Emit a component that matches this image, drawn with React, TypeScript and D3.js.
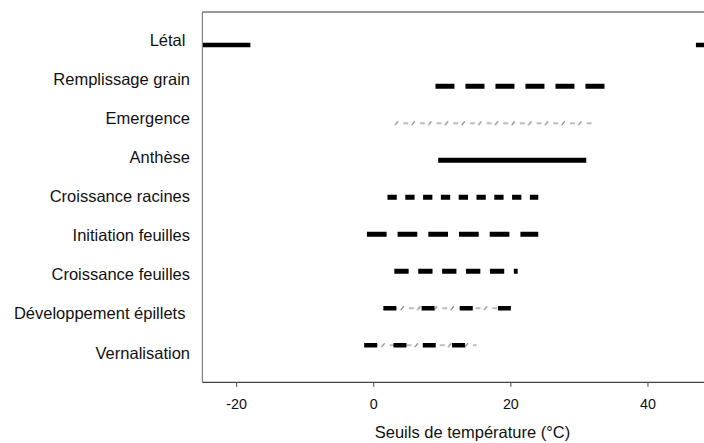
import React from "react";
import * as d3 from "d3";

// ---- data ----
const categories = [
  "Létal",
  "Remplissage grain",
  "Emergence",
  "Anthèse",
  "Croissance racines",
  "Initiation feuilles",
  "Croissance feuilles",
  "Développement épillets",
  "Vernalisation",
];
const labelTexts = [
  "Létal ",
  "Remplissage grain",
  "Emergence",
  "Anthèse",
  "Croissance racines",
  "Initiation feuilles",
  "Croissance feuilles",
  "Développement épillets ",
  "Vernalisation",
];
// y position of each category's line (row units)
const rowPosition = [9.12, 8, 7, 6, 5, 4, 3, 2, 1];
// threshold ranges (°C)
const segCategory = [
  "Létal",
  "Létal",
  "Remplissage grain",
  "Emergence",
  "Anthèse",
  "Croissance racines",
  "Initiation feuilles",
  "Croissance feuilles",
  "Développement épillets",
  "Vernalisation",
];
const segMin = [-30, 47, 9, 3, 9.4, 2, -1, 3, 1.4, -1.4];
const segMax = [-18, 55, 34, 32, 31, 24, 24, 21, 20, 15];
const xTicks = [-20, 0, 20, 40];
const xDomain = [-25, 50];
const xTitle = "Seuils de température (°C)";

// ---- styles (by category) ----
type LS = { hatch?: boolean; thick?: boolean; width?: number; dash?: string };
const styleOf: Record<string, LS> = {
  "Létal": { thick: true, width: 4.5 },
  "Remplissage grain": { thick: true, width: 5, dash: "19 11" },
  "Emergence": { hatch: true },
  "Anthèse": { thick: true, width: 5 },
  "Croissance racines": { thick: true, width: 5, dash: "9.3 8.5" },
  "Initiation feuilles": { thick: true, width: 5, dash: "19.7 11" },
  "Croissance feuilles": { thick: true, width: 5, dash: "14.3 9.6" },
  "Développement épillets": { hatch: true, thick: true, width: 4.6, dash: "13 25.2" },
  "Vernalisation": { hatch: true, thick: true, width: 4.6, dash: "13 16.3" },
};

const W = 704;
const H = 443;
const left = 202.4;
const top = 12;
const bottom = 382.3;
const right = 716.5;

export default function App() {
  const x = d3.scaleLinear().domain(xDomain).range([left, right]);
  const yLine = d3.scaleLinear().domain([1, 8]).range([345.2, 86.3]);
  const yLabel = d3.scalePoint<string>().domain(categories).range([46, 358.5]);
  const font = "'Liberation Sans', Arial, Helvetica, sans-serif";

  const rowOf: Record<string, number> = {};
  categories.forEach((c, i) => (rowOf[c] = rowPosition[i]));
  const segs = segCategory.map((c, i) => ({ c, min: segMin[i], max: segMax[i] }));

  return (
    <svg
      width={W}
      height={H}
      style={{ position: "absolute", left: 0, top: 0, background: "#fff" }}
      fontFamily={font}
    >
      <defs>
        <clipPath id="plot">
          <rect x={left} y={top} width={right - left} height={bottom - top} />
        </clipPath>
        <pattern id="hatch" patternUnits="userSpaceOnUse" x={0} y={-4} width={16.67} height={8}>
          <line x1={0.6} y1={5.8} x2={3.8} y2={2.2} stroke="#6e6e6e" strokeWidth={1} />
          <line x1={8.9} y1={4} x2={13.9} y2={4} stroke="#777" strokeWidth={1} />
        </pattern>
      </defs>
      <rect x={0} y={0} width={W} height={H} fill="#fff" />

      {/* category labels */}
      {categories.map((c, i) => (
        <text
          key={c}
          x={190}
          y={yLabel(c)}
          textAnchor="end"
          fontSize={16.5}
          fill="#111"
          style={{ whiteSpace: "pre" }}
        >
          {labelTexts[i]}
        </text>
      ))}

      {/* threshold segments */}
      <g clipPath="url(#plot)">
        {segs.map((s, i) => {
          const st = styleOf[s.c];
          const y0 = yLine(rowOf[s.c]);
          const x0 = x(s.min);
          const x1 = x(s.max);
          return (
            <g key={i}>
              {st.hatch && (
                <g transform={`translate(${x0},${y0})`}>
                  <rect x={0} y={-4} width={x1 - x0} height={8} fill="url(#hatch)" />
                </g>
              )}
              {st.thick && (
                <line
                  x1={x0}
                  x2={x1}
                  y1={y0}
                  y2={y0}
                  stroke="#000"
                  strokeWidth={st.width}
                  strokeDasharray={st.dash}
                />
              )}
            </g>
          );
        })}
      </g>

      {/* frame */}
      <line x1={left} x2={right} y1={top} y2={top} stroke="#333" strokeWidth={1} />
      <line x1={left} x2={left} y1={top} y2={bottom} stroke="#808080" strokeWidth={1.2} />
      <line x1={left} x2={right} y1={bottom} y2={bottom} stroke="#444" strokeWidth={1.2} />

      {/* x axis */}
      {xTicks.map((t) => (
        <g key={t} transform={`translate(${x(t)},0)`}>
          <line y1={bottom} y2={bottom + 4.5} stroke="#444" strokeWidth={1} />
          <text y={409} textAnchor="middle" fontSize={14.3} fill="#111">
            {String(t)}
          </text>
        </g>
      ))}
      <text x={472.5} y={437.5} textAnchor="middle" fontSize={16.5} fill="#111">
        {xTitle}
      </text>
    </svg>
  );
}
